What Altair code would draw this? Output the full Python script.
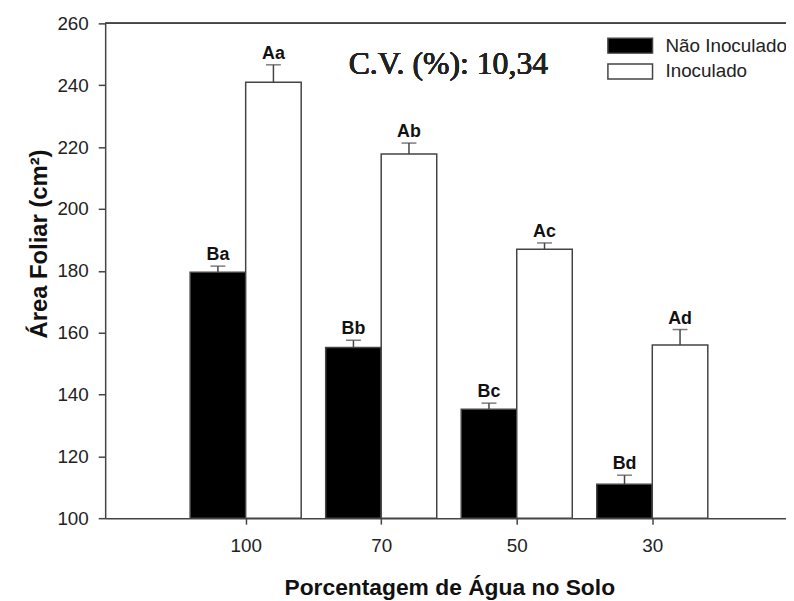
import altair as alt
import pandas as pd

categorias = ["100", "70", "50", "30"]
posicoes = [1, 2, 3, 4]
grupos = ["Não Inoculado", "Inoculado"]
media_nao_inoc = [179.5, 155.2, 135.2, 111.0]
ep_nao_inoc = [2.0, 2.3, 2.0, 2.9]
letras_nao_inoc = ["Ba", "Bb", "Bc", "Bd"]
media_inoc = [241.0, 217.8, 187.0, 156.0]
ep_inoc = [5.6, 3.5, 2.0, 5.0]
letras_inoc = ["Aa", "Ab", "Ac", "Ad"]
cv_texto = "C.V. (%): 10,34"

rows = []
for i in range(4):
    rows.append(dict(grupo=grupos[0], pos=posicoes[i], cat=categorias[i],
                     media=media_nao_inoc[i], ep=ep_nao_inoc[i], letra=letras_nao_inoc[i]))
    rows.append(dict(grupo=grupos[1], pos=posicoes[i], cat=categorias[i],
                     media=media_inoc[i], ep=ep_inoc[i], letra=letras_inoc[i]))
df = pd.DataFrame(rows)
df["sup"] = df["media"] + df["ep"]

FONT = "Liberation Sans"
AX = "#444444"
BARW = 56
OFF = 28

label_expr = "[" + ",".join("'%s'" % c for c in categorias) + "][datum.value - 1]"

xscale = alt.Scale(domain=[0, 4.95], nice=False, zero=False)
yscale = alt.Scale(domain=[100, 260], nice=False, zero=False)

x_axis = alt.Axis(values=posicoes, labelExpr=label_expr, title="Porcentagem de Água no Solo",
                  grid=False, tickSize=6, labelPadding=13, labelFontSize=19, labelFont=FONT,
                  labelColor="#222222", titleFont=FONT, titleFontSize=23, titleFontWeight="bold",
                  titleColor="#111111", titleX=347, titleAlign="center",
                  titleY=77, titleBaseline="alphabetic",
                  domainColor=AX, tickColor=AX, domainWidth=1.5, tickWidth=1.5)
y_axis = alt.Axis(values=list(range(100, 261, 20)), title="Área Foliar (cm²)", grid=False,
                  tickSize=7, labelPadding=10, labelFontSize=19, labelFont=FONT,
                  labelColor="#222222", titleFont=FONT, titleFontSize=24, titleFontWeight="bold",
                  titleColor="#111111", titleAngle=270, titleX=-66, titleY=222,
                  titleBaseline="middle", titleAlign="center",
                  domainColor=AX, tickColor=AX, domainWidth=1.5, tickWidth=1.5)

X = alt.X("pos:Q", scale=xscale, axis=x_axis)
def Y(field):
    return alt.Y(field, scale=yscale, axis=y_axis)

legend = alt.Legend(title=None, orient="none", legendX=520, legendY=13,
                    symbolType="M-3,-1L3,-1L3,1L-3,1Z", symbolSize=225,
                    symbolStrokeColor=AX, symbolStrokeWidth=1.5,
                    labelFont=FONT, labelFontSize=19, labelColor="#222222",
                    labelOffset=26, rowPadding=5, padding=0)
fill = alt.Fill("grupo:N", scale=alt.Scale(domain=grupos, range=["#000000", "#ffffff"]),
                legend=legend)

base = alt.Chart(df)
layers = []
for g, off in [(grupos[0], -OFF), (grupos[1], OFF)]:
    sub = base.transform_filter(alt.datum.grupo == g)
    bars = sub.mark_bar(size=BARW, xOffset=off, stroke=AX, strokeWidth=1.5).encode(
        x=X, y=Y("media:Q"), y2=alt.datum(100), fill=fill)
    err = sub.mark_rule(xOffset=off, color=AX, strokeWidth=1.5).encode(
        x=X, y=Y("media:Q"), y2="sup:Q")
    cap = sub.mark_tick(xOffset=off, color=AX, thickness=1.5, size=15, orient="horizontal").encode(
        x=X, y=Y("sup:Q"))
    txt = sub.mark_text(xOffset=off, dy=-6, baseline="alphabetic", font=FONT, fontSize=18,
                        fontWeight="bold", color="#111111").encode(
        x=X, y=Y("sup:Q"), text="letra:N")
    layers += [bars, err, cap, txt]

top_line = alt.Chart(df).mark_rule(color=AX, strokeWidth=1.5).encode(y=alt.datum(260))
cv = alt.Chart(df).mark_text(align="left", baseline="middle",
                              font="Liberation Serif, Times New Roman, serif",
                              fontSize=32, fontWeight="normal", color="#222222").encode(
    x=alt.datum(1.76), y=alt.datum(246.8), text=alt.value(cv_texto))

chart = alt.layer(*layers, top_line, cv).properties(
    width=686.6, height=499,
    autosize=alt.AutoSizeParams(type="none"),
    padding={"left": 98, "top": 13, "right": 0, "bottom": 80},
    background="white",
).configure_view(stroke=None)

chart.save("out.html", embed_options={"renderer": "svg", "actions": False})
